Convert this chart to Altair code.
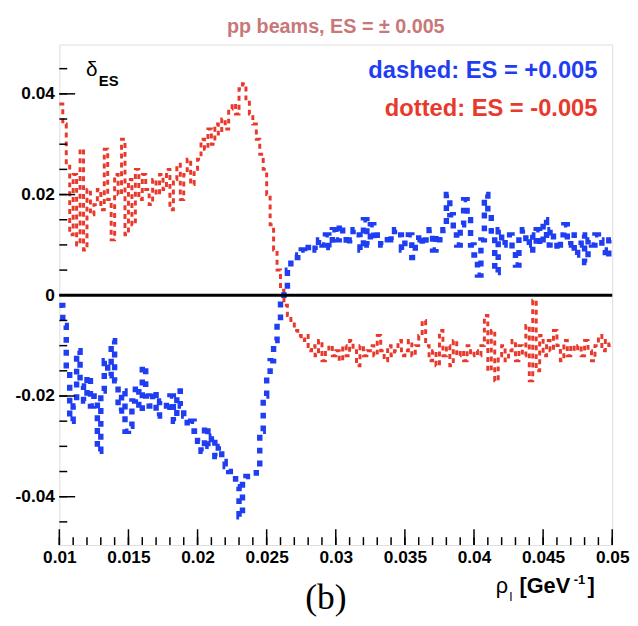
import altair as alt
import pandas as pd

# histogram: 160 bins from 0.010 to 0.050 (bin width 0.00025), values in units of 1e-3
x_min, x_max, n_bins = 0.010, 0.050, 160
red_milli = [
    38, 34, 26, 12, 24, 10, 29, 9, 21, 16,
    18, 21, 17, 29, 19, 11, 24, 20, 31, 12,
    23, 14, 25, 19, 24, 21, 18, 23, 20, 24,
    21, 25, 17, 23, 26, 19, 24, 27, 22, 25,
    27, 31, 29, 33, 30, 34, 32, 35, 33, 37,
    38, 36, 41, 42, 39, 36, 34, 31, 28, 25,
    20, 14, 9, 5, 1, -2, -4, -5, -7, -8,
    -9, -8, -11, -10, -12, -9, -13, -11, -10, -12,
    -11, -13, -10, -12, -9, -11, -14, -10, -12, -11,
    -10, -12, -8, -11, -13, -10, -12, -11, -9, -12,
    -11, -9, -12, -10, -8, -5, -10, -13, -11, -14,
    -7, -12, -10, -14, -9, -12, -11, -13, -10, -12,
    -11, -12, -10, -4, -15, -7, -17, -12, -10, -13,
    -11, -9, -13, -10, -12, -6, -17, -1, -15, -8,
    -12, -9, -11, -7, -10, -13, -9, -12, -10, -11,
    -10, -12, -9, -11, -13, -10, -8, -11, -9, -10,
]
blue_milli = [
    -2, -6, -14, -25, -22, -11, -18, -21, -16, -22,
    -20, -31, -19, -13, -16, -9, -17, -23, -19, -27,
    -26, -21, -18, -23, -14, -20, -22, -19, -24, -21,
    -21, -23, -20, -25, -19, -22, -24, -26, -25, -27,
    -29, -31, -26, -30, -28, -32, -30, -33, -34, -35,
    -35, -38, -44, -37, -36, -36, -36, -34, -27, -20,
    -16, -13, -9, -5, -1, 1, 5, 7, 7.5, 8,
    9, 8.5, 9.5, 10, 9, 11, 10, 12, 9.5, 13,
    11, 14, 12, 10, 11, 13, 12, 9, 15, 10,
    14, 11, 12, 10, 11, 12, 11, 13, 12, 9,
    11, 12, 7.5, 11, 12, 10, 11, 13, 9, 12,
    11, 13, 20, 16, 12, 10, 14, 19, 15, 10,
    8, 4, 11, 20, 16, 12, 4.5, 13, 10, 12,
    12, 9, 6, 11, 13, 10, 12, 9, 13, 10,
    15, 10, 13, 11, 9, 12, 14, 10, 12, 8,
    10, 12, 6.5, 11, 10, 12, 11, 9, 7.5, 11,
]

x_major = [0.01, 0.015, 0.02, 0.025, 0.03, 0.035, 0.04, 0.045, 0.05]
x_minor = [round(0.01 + 0.001 * i, 3) for i in range(41)]
y_major = [-0.04, -0.02, 0.0, 0.02, 0.04]
y_minor = [round(-0.045 + 0.005 * i, 3) for i in range(19)]

BLUE = "#1f3ef2"
RED = "#e8392c"
FONT = "Liberation Sans"
W, H = 560, 507

edges = [round(x_min + (x_max - x_min) * i / n_bins, 6) for i in range(n_bins + 1)]
hist = pd.DataFrame({
    "x": edges,
    "blue": [v / 1000 for v in blue_milli + [blue_milli[-1]]],
    "red": [v / 1000 for v in red_milli + [red_milli[-1]]],
})

xs = alt.Scale(domain=[x_min, x_max], nice=False, zero=False)
ys = alt.Scale(domain=[-0.0496, 0.0498], nice=False, zero=False)

x_axis = alt.Axis(values=x_major, format="~g", labelFont=FONT, labelFontSize=17.5,
                  labelFontWeight="bold", labelColor="black", tickSize=0, domain=False,
                  grid=False, title=None, labelPadding=4, labelFlush=False,
                  labelOverlap=False, labelBound=False)
y_axis = alt.Axis(values=y_major, labelExpr="replace(format(datum.value, '~g'), '\u2212', '-')",
                  labelFont=FONT, labelFontSize=17.5, labelFontWeight="bold",
                  labelColor="black", tickSize=0, domain=False, grid=False, title=None,
                  labelPadding=5, labelOverlap=False)

def X(field):
    return alt.X(field, scale=xs, axis=x_axis)

def Y(field):
    return alt.Y(field, scale=ys, axis=y_axis)

red_line = alt.Chart(hist).mark_line(
    interpolate="step-after", color=RED, strokeWidth=3, strokeDash=[5, 4], strokeCap="butt"
).encode(x=X("x:Q"), y=Y("red:Q"))

blue_line = alt.Chart(hist).mark_line(
    interpolate="step-after", color=BLUE, strokeWidth=5.5, strokeDash=[6, 7], strokeCap="butt"
).encode(x=X("x:Q"), y=Y("blue:Q"))

zero_line = alt.Chart(pd.DataFrame({"y": [0.0]})).mark_rule(color="black", strokeWidth=3).encode(
    y=Y("y:Q"))

def yticks(vals, length):
    return alt.Chart(pd.DataFrame({"v": vals})).mark_rule(color="black", strokeWidth=1.5).encode(
        y=Y("v:Q"), x=alt.value(0), x2=alt.value(length))

def xticks(vals, length):
    return alt.Chart(pd.DataFrame({"v": vals})).mark_rule(color="black", strokeWidth=1.5).encode(
        x=X("v:Q"), y=alt.value(H), y2=alt.value(H - length))

one = pd.DataFrame({"a": [0]})

def label(text, x, y, size, color="black", weight="bold", align="left", font=FONT):
    return alt.Chart(one).mark_text(
        text=text, font=font, fontSize=size, fontWeight=weight, color=color,
        align=align, baseline="alphabetic"
    ).encode(x=alt.value(x), y=alt.value(y))

texts = [
    label("dashed: ES = +0.005", 545, 34, 24, BLUE, align="right"),
    label("dotted: ES = -0.005", 545, 72, 24, RED, align="right"),
    label("\u03b4", 27, 32, 21, weight="normal"),
    label("ES", 40, 42, 15),
    label("\u03c1", 442, 556, 22, weight="normal"),
    label("l", 456, 564, 13, weight="normal"),
    label("[GeV", 466, 556, 22),
    label("-1", 521, 546, 13),
    label("]", 535, 556, 22),
    label("(b)", 270, 572, 36, weight="normal", align="center", font="Liberation Serif"),
]

chart = alt.layer(
    red_line, blue_line, zero_line,
    yticks(y_minor, 8), yticks(y_major, 16),
    xticks(x_minor, 8), xticks(x_major, 16),
    *texts,
).properties(
    width=W, height=H,
    title=alt.TitleParams("pp beams, ES = \u00b1 0.005", font=FONT, fontSize=20,
                          fontWeight="bold", color="#c87878", anchor="middle", offset=8),
    autosize=alt.AutoSizeParams(type="none"),
    padding={"left": 52, "top": 33, "right": 18, "bottom": 76},
).configure_view(stroke="black", strokeWidth=2).configure(background="white")

chart.save("out.html", embed_options={"renderer": "svg", "actions": False})
